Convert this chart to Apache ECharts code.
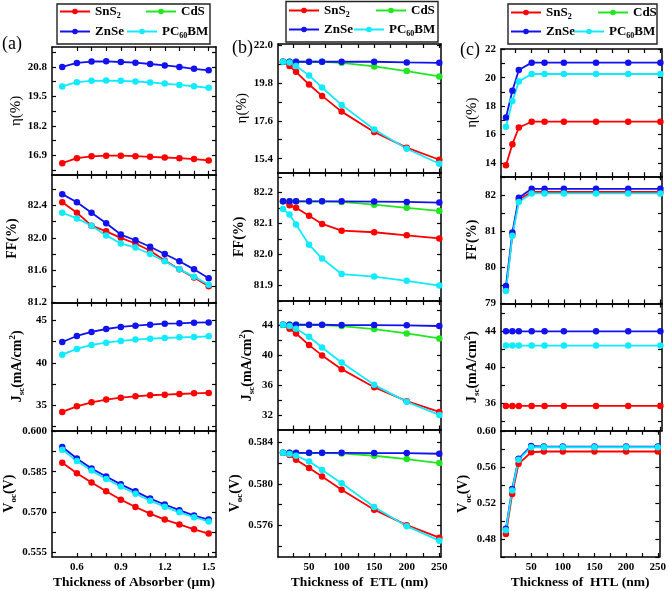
<!DOCTYPE html>
<html><head><meta charset="utf-8">
<script src="https://cdn.jsdelivr.net/npm/echarts@6/dist/echarts.min.js"></script>
<style>html,body{margin:0;padding:0;background:#fff}#c{width:669px;height:591px}</style>
</head><body><div id="c"></div><script>
// ---------- data ----------
const absorberX = [0.5,0.6,0.7,0.8,0.9,1.0,1.1,1.2,1.3,1.4,1.5];
const etlX = [10,20,30,50,70,100,150,200,250];
const htlX = [10,20,30,50,70,100,150,200,250];

const absorberTickLabels = [0.6,0.9,1.2,1.5];
const absorberTicks = [0.6,0.7,0.8,0.9,1.0,1.1,1.2,1.3,1.4,1.5];
const nmTickLabels = [50,100,150,200,250];
const nmTicks = [25,50,75,100,125,150,175,200,225,250];

// (a) absorber thickness
const aEtaSnS2 = [16.56,16.78,16.86,16.89,16.89,16.87,16.84,16.81,16.78,16.74,16.68];
const aEtaZnSe = [20.80,20.98,21.04,21.05,21.02,20.99,20.93,20.87,20.80,20.72,20.65];
const aEtaPCBM = [19.94,20.13,20.19,20.20,20.19,20.16,20.12,20.07,20.01,19.95,19.88];
const aFFSnS2 = [82.44,82.31,82.15,82.08,82.00,81.93,81.84,81.72,81.61,81.51,81.40];
const aFFZnSe = [82.54,82.44,82.31,82.18,82.04,81.97,81.89,81.80,81.71,81.61,81.50];
const aFFPCBM = [82.31,82.24,82.15,82.03,81.93,81.88,81.80,81.71,81.61,81.52,81.42];
const aJscSnS2 = [34.22,34.88,35.35,35.67,35.90,36.06,36.18,36.25,36.33,36.41,36.45];
const aJscZnSe = [42.45,43.16,43.63,43.98,44.22,44.37,44.49,44.61,44.65,44.73,44.76];
const aJscPCBM = [40.96,41.63,42.10,42.37,42.57,42.73,42.84,42.92,43.00,43.04,43.12];
const aVocSnS2 = [0.5883,0.5844,0.5810,0.5777,0.5746,0.5719,0.5694,0.5672,0.5654,0.5636,0.5620];
const aVocZnSe = [0.5942,0.5899,0.5862,0.5832,0.5803,0.5777,0.5750,0.5728,0.5707,0.5687,0.5672];
const aVocPCBM = [0.5932,0.5890,0.5854,0.5823,0.5795,0.5768,0.5742,0.5720,0.5699,0.5681,0.5665];

// (b) ETL thickness
const bEtaSnS2 = [21.02,20.77,20.44,19.70,19.04,18.13,16.95,16.04,15.34];
const bEtaCdS  = [21.02,21.02,21.02,21.02,21.02,20.96,20.75,20.48,20.17];
const bEtaZnSe = [21.02,21.02,21.02,21.02,21.02,21.02,21.02,20.98,20.96];
const bEtaPCBM = [21.02,20.98,20.77,20.23,19.53,18.52,17.09,15.98,15.11];
const bFFSnS2 = [82.172,82.159,82.151,82.125,82.099,82.077,82.072,82.062,82.052];
const bFFCdS  = [82.172,82.172,82.172,82.172,82.172,82.170,82.161,82.151,82.141];
const bFFZnSe = [82.172,82.172,82.172,82.172,82.172,82.172,82.171,82.170,82.168];
const bFFPCBM = [82.147,82.129,82.097,82.032,81.987,81.937,81.929,81.915,81.900];
const bJscSnS2 = [44.04,43.51,42.89,41.33,39.96,38.13,35.73,33.87,32.44];
const bJscCdS  = [44.04,44.04,44.04,44.00,44.00,43.87,43.47,42.89,42.22];
const bJscZnSe = [44.04,44.04,44.04,44.04,44.04,44.00,44.00,43.96,43.87];
const bJscPCBM = [44.04,43.87,43.51,42.44,41.02,39.02,36.04,33.78,32.04];
const bVocSnS2 = [0.58297,0.58275,0.58231,0.58152,0.58070,0.57943,0.57753,0.57605,0.57485];
const bVocCdS  = [0.58297,0.58297,0.58294,0.58294,0.58294,0.58291,0.58269,0.58237,0.58199];
const bVocZnSe = [0.58297,0.58297,0.58297,0.58297,0.58297,0.58297,0.58294,0.58294,0.58288];
const bVocPCBM = [0.58297,0.58285,0.58269,0.58215,0.58133,0.58006,0.57779,0.57595,0.57456];

// (c) HTL thickness
const cEtaSnS2 = [13.84,15.32,16.49,16.90,16.90,16.90,16.90,16.90,16.90];
const cEtaZnSe = [17.20,19.08,20.54,21.06,21.06,21.06,21.06,21.06,21.06];
const cEtaPCBM = [16.54,18.35,19.74,20.26,20.26,20.26,20.26,20.26,20.26];
const cFFSnS2 = [79.35,80.90,81.88,82.09,82.09,82.09,82.09,82.09,82.09];
const cFFZnSe = [79.47,80.96,81.93,82.18,82.18,82.18,82.18,82.18,82.18];
const cFFPCBM = [79.33,80.87,81.81,82.05,82.05,82.05,82.05,82.05,82.05];
const cJscSnS2 = [35.67,35.67,35.67,35.67,35.67,35.67,35.67,35.67,35.67];
const cJscZnSe = [44.00,44.00,44.00,44.00,44.00,44.00,44.00,44.00,44.00];
const cJscPCBM = [42.41,42.41,42.41,42.41,42.41,42.41,42.41,42.41,42.41];
const cVocSnS2 = [0.4856,0.5304,0.5641,0.5770,0.5778,0.5778,0.5778,0.5778,0.5778];
const cVocZnSe = [0.4915,0.5360,0.5696,0.5840,0.5833,0.5833,0.5833,0.5833,0.5833];
const cVocPCBM = [0.4900,0.5344,0.5685,0.5826,0.5826,0.5826,0.5826,0.5826,0.5826];

// y-axis tick labels
const aEtaLabels = [16.9,18.2,19.5,20.8];
const aFFLabels = [81.2,81.6,82.0,82.4];
const aJscLabels = [35,40,45];
const aVocLabels = [0.555,0.570,0.585,0.600];
const bEtaLabels = [15.4,17.6,19.8,22.0];
const bFFLabels = [81.9,82.0,82.1,82.2];
const bJscLabels = [32,36,40,44];
const bVocLabels = [0.576,0.580,0.584];
const cEtaLabels = [14,16,18,20,22];
const cFFLabels = [79,80,81,82];
const cJscLabels = [36,40,44];
const cVocLabels = [0.48,0.52,0.56,0.60];

// ---------- style ----------
const FONT = "'Liberation Serif','Times New Roman',serif";
const COLORS = {'SnS2':'#ff0000','CdS':'#22e622','ZnSe':'#1212ee','PC60BM':'#12eaff'};

const richY = {
  b:{fontFamily:FONT,fontWeight:'bold',fontSize:14,color:'#000',lineHeight:18},
  n:{fontFamily:FONT,fontWeight:'normal',fontSize:15,color:'#000',lineHeight:18},
  sub:{fontFamily:FONT,fontWeight:'bold',fontSize:9,color:'#000',lineHeight:9,verticalAlign:'bottom'},
  sup:{fontFamily:FONT,fontWeight:'bold',fontSize:9,color:'#000',lineHeight:9,verticalAlign:'top'}
};
const NAME_ETA = '{n|η(%)}';
const NAME_FF = '{b|FF(%)}';
const NAME_JSC = '{b|J}{sub|sc}{b|(mA/cm}{sup|2}{b|)}';
const NAME_VOC = '{b|V}{sub|oc}{b|(V)}';

const columns = [
  {left:52, width:164, top:47, h:127.75, x:absorberX, xmin:0.43, xmax:1.55, xticks:absorberTicks, xlabels:absorberTickLabels, xdec:1,
   xname:'Thickness of Absorber (μm)',
   panels:[
    {min:16.05,max:21.68,labels:aEtaLabels,dec:1,name:NAME_ETA,gap:22,s:{SnS2:aEtaSnS2,ZnSe:aEtaZnSe,PC60BM:aEtaPCBM}},
    {min:81.2,max:82.78,labels:aFFLabels,dec:1,name:NAME_FF,gap:31,s:{SnS2:aFFSnS2,ZnSe:aFFZnSe,PC60BM:aFFPCBM}},
    {min:32.06,max:47.1,labels:aJscLabels,dec:0,name:NAME_JSC,gap:26,s:{SnS2:aJscSnS2,ZnSe:aJscZnSe,PC60BM:aJscPCBM}},
    {min:0.5533,max:0.6004,labels:aVocLabels,dec:3,name:NAME_VOC,gap:30,s:{SnS2:aVocSnS2,ZnSe:aVocZnSe,PC60BM:aVocPCBM}}
   ]},
  {left:278, width:163, top:44, h:128.5, x:etlX, xmin:2.3, xmax:252.6, xticks:nmTicks, xlabels:nmTickLabels, xdec:0,
   xname:'Thickness of  ETL (nm)',
   panels:[
    {min:14.6,max:22.05,labels:bEtaLabels,dec:1,name:NAME_ETA,gap:27,s:{SnS2:bEtaSnS2,CdS:bEtaCdS,ZnSe:bEtaZnSe,PC60BM:bEtaPCBM}},
    {min:81.85,max:82.265,labels:bFFLabels,dec:1,name:NAME_FF,gap:30,s:{SnS2:bFFSnS2,CdS:bFFCdS,ZnSe:bFFZnSe,PC60BM:bFFPCBM}},
    {min:30.1,max:47.2,labels:bJscLabels,dec:0,name:NAME_JSC,gap:22,s:{SnS2:bJscSnS2,CdS:bJscCdS,ZnSe:bJscZnSe,PC60BM:bJscPCBM}},
    {min:0.573,max:0.5852,labels:bVocLabels,dec:3,name:NAME_VOC,gap:32,s:{SnS2:bVocSnS2,CdS:bVocCdS,ZnSe:bVocZnSe,PC60BM:bVocPCBM}}
   ]},
  {left:501, width:161, top:49, h:127.25, x:htlX, xmin:2.3, xmax:252.5, xticks:nmTicks, xlabels:nmTickLabels, xdec:0,
   xname:'Thickness of  HTL (nm)',
   panels:[
    {min:13.06,max:22.02,labels:cEtaLabels,dec:0,name:NAME_ETA,gap:20,s:{SnS2:cEtaSnS2,ZnSe:cEtaZnSe,PC60BM:cEtaPCBM}},
    {min:78.98,max:82.53,labels:cFFLabels,dec:0,name:NAME_FF,gap:20,s:{SnS2:cFFSnS2,ZnSe:cFFZnSe,PC60BM:cFFPCBM}},
    {min:32.9,max:47.1,labels:cJscLabels,dec:0,name:NAME_JSC,gap:18,s:{SnS2:cJscSnS2,ZnSe:cJscZnSe,PC60BM:cJscPCBM}},
    {min:0.46,max:0.601,labels:cVocLabels,dec:2,name:NAME_VOC,gap:26,s:{SnS2:cVocSnS2,ZnSe:cVocZnSe,PC60BM:cVocPCBM}}
   ]}
];

function ticksFrom(labels, min, max){
  const half = (labels[1]-labels[0])/2;
  let v = labels[0];
  while (v - half >= min - 1e-9) v -= half;
  const out = [];
  for (; v <= max + 1e-9; v += half) out.push(+v.toFixed(6));
  return out;
}

const grids=[], xAxes=[], yAxes=[], series=[];
const axLine = {show:true, onZero:false, lineStyle:{color:'#000', width:1.5}};
const tickStyle = {color:'#000', width:1.2};
const labelStyle = {fontFamily:FONT, fontWeight:'bold', fontSize:11, color:'#000'};

columns.forEach((col, ci) => {
  col.panels.forEach((p, ri) => {
    const g = grids.length;
    grids.push({left:col.left, top:col.top + ri*col.h, width:col.width, height:col.h, containLabel:false});
    const last = ri === 3;
    xAxes.push({type:'value', gridIndex:g, position:'bottom', min:col.xmin, max:col.xmax,
      axisLine:axLine, splitLine:{show:false},
      axisTick:{show:true, inside:true, length:4, customValues:col.xticks, lineStyle:tickStyle},
      axisLabel:{show:last, customValues:col.xlabels, margin:5, formatter:v=>v.toFixed(col.xdec), ...labelStyle},
      name: last ? col.xname : '', nameLocation:'middle', nameGap:19,
      nameTextStyle:{fontFamily:FONT, fontWeight:'bold', fontSize:13.5, color:'#000'}});
    xAxes.push({type:'value', gridIndex:g, position:'top', min:col.xmin, max:col.xmax,
      axisLine:axLine, splitLine:{show:false},
      axisTick:{show:true, inside:true, length:4, customValues:col.xticks, lineStyle:tickStyle},
      axisLabel:{show:false}});
    const yt = ticksFrom(p.labels, p.min, p.max);
    yAxes.push({type:'value', gridIndex:g, position:'left', min:p.min, max:p.max,
      axisLine:axLine, splitLine:{show:false},
      axisTick:{show:true, inside:true, length:4, customValues:yt, lineStyle:tickStyle},
      axisLabel:{show:true, customValues:p.labels, margin:5, formatter:v=>v.toFixed(p.dec), ...labelStyle},
      name:p.name, nameLocation:'middle', nameRotate:90, nameGap:p.gap,
      nameTextStyle:{rich:richY}});
    yAxes.push({type:'value', gridIndex:g, position:'right', min:p.min, max:p.max,
      axisLine:axLine, splitLine:{show:false},
      axisTick:{show:true, inside:true, length:4, customValues:yt, lineStyle:tickStyle},
      axisLabel:{show:false}});
    ['SnS2','CdS','ZnSe','PC60BM'].forEach(nm => {
      const ys = p.s[nm];
      if (!ys) return;
      series.push({type:'line', name:nm, xAxisIndex:2*g, yAxisIndex:2*g,
        data: col.x.map((xv,i)=>[xv, ys[i]]),
        symbol:'circle', symbolSize:6.5, showSymbol:true,
        lineStyle:{color:COLORS[nm], width:1.8}, itemStyle:{color:COLORS[nm]},
        emphasis:{disabled:true}, clip:false});
    });
  });
});

// legends: 4 items per column, each positioned like the reference
const legendRich = {
  t:{fontFamily:FONT,fontWeight:'bold',fontSize:13,color:'#000',lineHeight:16},
  s:{fontFamily:FONT,fontWeight:'bold',fontSize:8,color:'#000',lineHeight:8,verticalAlign:'bottom'}
};
const legendText = {'SnS2':'{t|SnS}{s|2}','CdS':'{t|CdS}','ZnSe':'{t|ZnSe}','PC60BM':'{t|PC}{s|60}{t|BM}'};
const legendPos = [
  {SnS2:[59,5], CdS:[145,5], ZnSe:[59,25], PC60BM:[126,25]},
  {SnS2:[288,4], CdS:[375,4], ZnSe:[288,23], PC60BM:[353,23]},
  {SnS2:[510,6], CdS:[597,6], ZnSe:[510,25], PC60BM:[573,25]}
];
const legends = [];
legendPos.forEach(pos => {
  Object.keys(pos).forEach(nm => {
    legends.push({data:[nm], left:pos[nm][0], top:pos[nm][1], padding:0, itemWidth:30, itemHeight:7, itemGap:0,
      selectedMode:false, formatter:n=>legendText[n], textStyle:{rich:legendRich}});
  });
});

const boxStyle = {fill:'none', stroke:'#222', lineWidth:1.4};
const graphic = [
  {type:'rect', shape:{x:57,y:4,width:153,height:40}, style:boxStyle},
  {type:'rect', shape:{x:286,y:1.5,width:152,height:40.5}, style:boxStyle},
  {type:'rect', shape:{x:508,y:4,width:149,height:40}, style:boxStyle},
  {type:'text', x:2, y:44, style:{text:'(a)', fontFamily:FONT, fontSize:18, fill:'#000', verticalAlign:'middle'}},
  {type:'text', x:232, y:48, style:{text:'(b)', fontFamily:FONT, fontSize:18, fill:'#000', verticalAlign:'middle'}},
  {type:'text', x:460, y:50, style:{text:'(c)', fontFamily:FONT, fontSize:18, fill:'#000', verticalAlign:'middle'}}
];

const chart = echarts.init(document.getElementById('c'), null, {renderer:'canvas'});
chart.setOption({
  animation:false, backgroundColor:'#fff',
  grid:grids, xAxis:xAxes, yAxis:yAxes, series:series, legend:legends, graphic:graphic
});
</script></body></html>
